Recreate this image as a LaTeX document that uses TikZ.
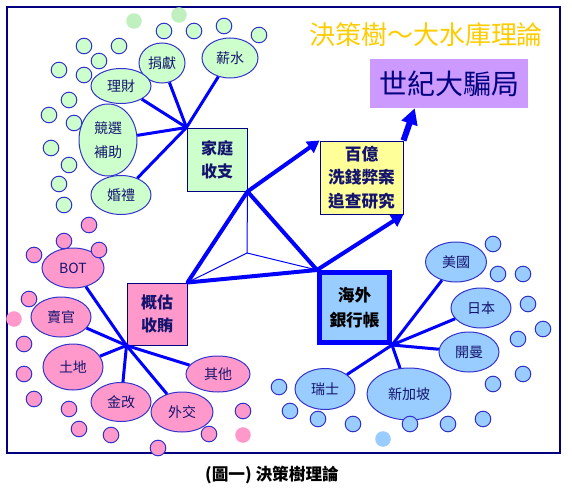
\documentclass[tikz,border=0pt]{standalone}
\usepackage{fontspec}
\setmainfont{Noto Sans CJK TC}
\usetikzlibrary{shapes.geometric,arrows.meta,calc}
\definecolor{leafgreen}{RGB}{204,255,204}
\definecolor{palegreen}{RGB}{192,240,192}
\definecolor{leafpink}{RGB}{255,153,204}
\definecolor{leafblue}{RGB}{153,204,255}
\definecolor{boxyellow}{RGB}{255,255,153}
\definecolor{boxpurple}{RGB}{204,153,255}
\definecolor{rimblue}{RGB}{51,51,204}
\definecolor{rimnavy}{RGB}{0,0,128}
\definecolor{lineblue}{RGB}{0,0,255}
\definecolor{inknavy}{RGB}{20,20,110}
\definecolor{titlegold}{RGB}{255,204,0}
\begin{document}
\begin{tikzpicture}[x=0.75pt,y=-0.75pt,
  leaf/.style={ellipse,draw=rimblue,line width=0.75pt,inner sep=0pt,align=center,
    text=inknavy,font=\fontsize{10.5pt}{18pt}\selectfont},
  greenleaf/.style={leaf,fill=leafgreen},
  pinkleaf/.style={leaf,fill=leafpink},
  blueleaf/.style={leaf,fill=leafblue},
  hubbox/.style={rectangle,draw=rimnavy,line width=0.75pt,inner sep=0pt,align=center,
    text=inknavy,font=\bfseries\fontsize{12pt}{17pt}\selectfont},
  spoke/.style={draw=lineblue,line width=2.25pt},
  triedge/.style={draw=lineblue,line width=3pt,line join=round},
  trispoke/.style={draw=lineblue,line width=0.75pt},
  flow/.style={draw=lineblue,line width=3pt,-{Triangle[length=9pt,width=10pt]}},
  bigflow/.style={draw=lineblue,line width=4.5pt,-{Triangle[length=12pt,width=12pt]}}]
\useasboundingbox (0,0) rectangle (572,496);
\draw[rimnavy,line width=1.2pt] (7,7) rectangle (560,453);

% title and caption
\node[text=titlegold,font=\fontsize{19.5pt}{22pt}\selectfont] (title) at (426,35) {決策樹～大水庫理論};
\node[font=\bfseries\fontsize{12.5pt}{14pt}\selectfont] (caption) at (272,475) {(圖一) 決策樹理論};

% four boxes
\node[hubbox,fill=leafgreen,minimum width=45pt,minimum height=47.25pt] (jt) at (217,159.5) {家庭\\收支};
\node[hubbox,fill=leafpink,minimum width=45pt,minimum height=46.5pt] (gg) at (157,314) {概估\\收賄};
\node[hubbox,fill=leafblue,draw=lineblue,line width=3.75pt,text=black,font=\bfseries\fontsize{12.5pt}{18.5pt}\selectfont,
  minimum width=52.5pt,minimum height=52.5pt] (hw) at (354.5,307.5) {海外\\銀行帳};
\node[hubbox,fill=boxyellow,font=\bfseries\fontsize{12.5pt}{17.5pt}\selectfont,
  minimum width=62.25pt,minimum height=54.75pt] (by) at (361.5,177.5) {百億\\洗錢弊案\\追查研究};
\node[rectangle,fill=boxpurple,inner sep=0pt,text=rimnavy,font=\fontsize{21pt}{24pt}\selectfont,
  minimum width=118.5pt,minimum height=36.75pt] (pj) at (449,83.5) {世紀大騙局};

% triangle between the boxes
\coordinate (tc) at (247,253);
\draw[triedge] (jt.south east) -- (gg.north east) -- (hw.north west) -- cycle;
\draw[trispoke] (tc) -- (jt.south east);
\draw[trispoke] (tc) -- (gg.north east);
\draw[trispoke] (tc) -- (hw.north west);

% arrows
\draw[flow] (jt.south east) -- (by.north west);
\draw[flow] (hw.north west) -- (by.south east);
\draw[bigflow] (by.north east) -- ($(pj.south west)+(45,0)$);

% green leaves
\node[greenleaf,minimum width=42pt,minimum height=30pt] (xs) at (230,58) {薪水};
\node[greenleaf,minimum width=34.5pt,minimum height=30pt] (jx) at (162,63) {捐獻};
\node[greenleaf,minimum width=45pt,minimum height=26.25pt] (lc) at (121,86) {理財};
\node[greenleaf,minimum width=43.5pt,minimum height=54pt] (jxbz) at (108,140) {競選\\補助};
\node[greenleaf,minimum width=45pt,minimum height=29.25pt] (hl) at (121,195) {婚禮};
\foreach \leaf in {xs,jx,lc,jxbz,hl}
  \draw[spoke] (jt.north west) -- (\leaf);

% pink leaves
\node[pinkleaf,minimum width=46.5pt,minimum height=30pt] (bot) at (73,268) {BOT};
\node[pinkleaf,minimum width=45pt,minimum height=30pt] (mgn) at (61,317) {賣官};
\node[pinkleaf,minimum width=45pt,minimum height=34.5pt] (td) at (73,367) {土地};
\node[pinkleaf,minimum width=45pt,minimum height=29.25pt] (jg) at (121,402) {金改};
\node[pinkleaf,minimum width=46.5pt,minimum height=30pt] (wj) at (182,412) {外交};
\node[pinkleaf,minimum width=48pt,minimum height=27pt] (qt) at (218,374) {其他};
\foreach \leaf in {bot,mgn,td,jg,wj,qt}
  \draw[spoke] (gg.south west) -- (\leaf);

% blue leaves
\node[blueleaf,minimum width=45.75pt,minimum height=30pt] (usa) at (456,262) {美國};
\node[blueleaf,minimum width=45pt,minimum height=30pt] (rb) at (481,308) {日本};
\node[blueleaf,minimum width=45pt,minimum height=30pt] (km) at (469,352) {開曼};
\node[blueleaf,minimum width=63pt,minimum height=39pt] (xjp) at (409,394) {新加坡};
\node[blueleaf,minimum width=45pt,minimum height=30.75pt] (rs) at (325,389) {瑞士};
\foreach \leaf in {usa,rb,km,xjp,rs}
  \draw[spoke] (hw.south east) -- (\leaf);

% small dots
\foreach \p in {(164,31),(194,31),(224,26),(259,35),(84,46),(119,46),(99,61),(59,70),
    (84,75),(69,100),(49,115),(74,123),(51,148),(69,165),(59,184),(64,205)}
  \filldraw[fill=leafgreen,draw=rimblue,line width=0.75pt] \p circle[radius=7.8];
\foreach \p in {(134,21),(179,15)}
  \fill[palegreen] \p circle[radius=7.8];
\foreach \p in {(89,225),(64,241),(99,250),(34,255),(29,299),(24,344),(24,374),(34,399),
    (69,409),(79,429),(111,435),(158,448),(209,434),(243,411)}
  \filldraw[fill=leafpink,draw=rimblue,line width=0.75pt] \p circle[radius=7.8];
\foreach \p in {(14,319),(243,435)}
  \fill[leafpink] \p circle[radius=7.8];
\foreach \p in {(493,244),(498,274),(523,274),(528,304),(543,329),(518,339),(523,374),(493,384),
    (483,419),(448,424),(410,424),(353,424),(318,419),(290,411),(279,387)}
  \filldraw[fill=leafblue,draw=rimblue,line width=0.75pt] \p circle[radius=7.8];
\fill[leafblue] (383,439) circle[radius=7.8];
\end{tikzpicture}
\end{document}
